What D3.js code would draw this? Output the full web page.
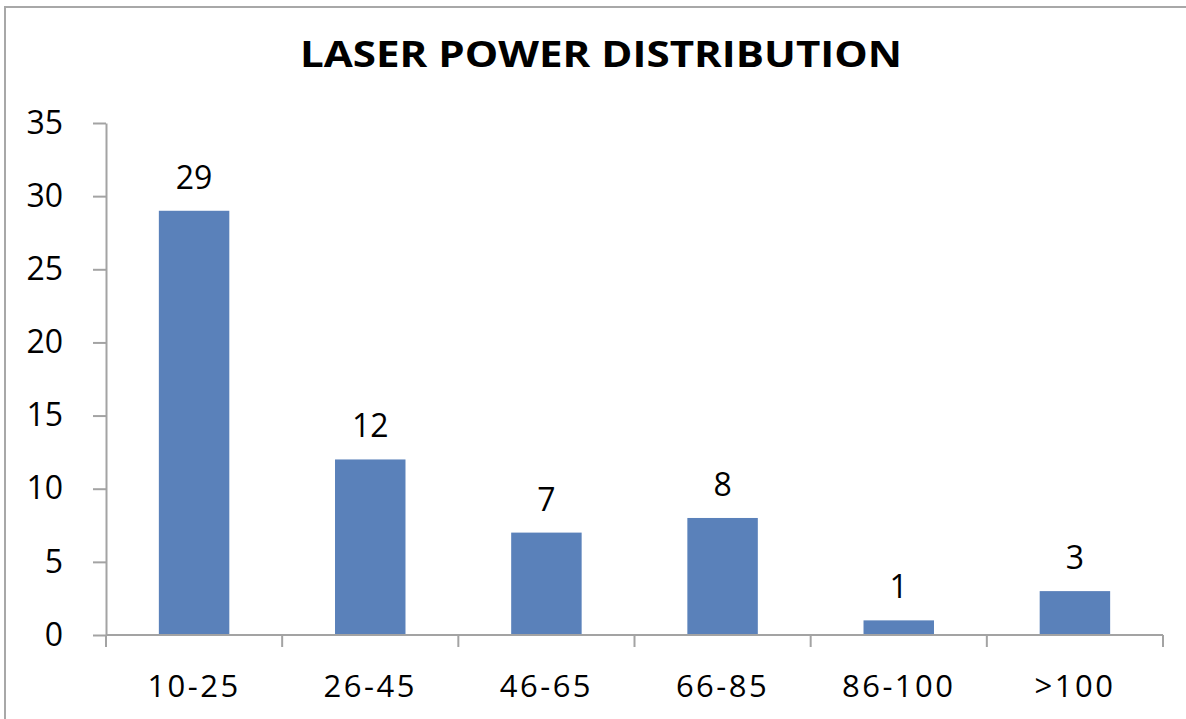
<!DOCTYPE html>
<html>
<head>
<meta charset="utf-8">
<script src="https://cdn.jsdelivr.net/npm/d3@7"></script>
<style>
  html, body { margin: 0; padding: 0; background: #fff; }
  svg { display: block; }
  text { font-family: "Open Sans", "Liberation Sans", sans-serif; fill: #000; }
</style>
</head>
<body>
<svg id="chart" width="1186" height="719"></svg>
<script>
// Laser power ranges and how many units fall in each
const categories = ["10-25", "26-45", "46-65", "66-85", "86-100", ">100"];
const counts = [29, 12, 7, 8, 1, 3];
const yTicks = [0, 5, 10, 15, 20, 25, 30, 35];
const chartTitle = "LASER POWER DISTRIBUTION";

const svg = d3.select("#chart");
const plot = { left: 106, right: 1163, top: 123, bottom: 635 };
const axisColor = "#a3a3a3";
const barColor = "#5a81ba";

// outer frame of the chart area
svg.append("rect")
  .attr("x", 5).attr("y", 7)
  .attr("width", 1300).attr("height", 900)
  .attr("fill", "none")
  .attr("stroke", "#a8a8a8")
  .attr("stroke-width", 2);

// title
svg.append("text")
  .attr("x", 601).attr("y", 67)
  .attr("text-anchor", "middle")
  .attr("font-size", 35)
  .attr("font-weight", 700)
  .attr("textLength", 602)
  .attr("lengthAdjust", "spacingAndGlyphs")
  .text(chartTitle);

const y = d3.scaleLinear().domain([0, 35]).range([plot.bottom, plot.top]);
const x = d3.scaleBand().domain(categories)
  .range([plot.left, plot.right])
  .paddingInner(0.6).paddingOuter(0.3);
const xCells = d3.scaleBand().domain(categories)
  .range([plot.left, plot.right]).padding(0);

// y axis
const yAxis = svg.append("g")
  .attr("transform", `translate(${plot.left},0)`)
  .call(d3.axisLeft(y).tickValues(yTicks).tickSize(13).tickSizeOuter(0).tickPadding(30));
yAxis.select(".domain").attr("stroke", axisColor).attr("stroke-width", 2);
yAxis.selectAll(".tick line").attr("stroke", axisColor).attr("stroke-width", 2);
yAxis.selectAll(".tick text")
  .attr("font-size", 32)
  .attr("font-family", "\"Open Sans\", sans-serif")
  .attr("fill", "#000");

// bars
svg.append("g").selectAll("rect")
  .data(categories)
  .join("rect")
  .attr("x", d => x(d))
  .attr("width", x.bandwidth())
  .attr("y", (d, i) => y(counts[i]))
  .attr("height", (d, i) => y(0) - y(counts[i]))
  .attr("fill", barColor);

// value labels above each bar
svg.append("g").selectAll("text")
  .data(categories)
  .join("text")
  .attr("x", d => x(d) + x.bandwidth() / 2)
  .attr("y", (d, i) => y(counts[i]) - 22)
  .attr("text-anchor", "middle")
  .attr("font-size", 32)
  .text((d, i) => counts[i]);

// x axis: baseline, category boundary ticks, labels
const xAxis = svg.append("g");
xAxis.append("line")
  .attr("x1", plot.left).attr("x2", plot.right)
  .attr("y1", y(0)).attr("y2", y(0))
  .attr("stroke", axisColor).attr("stroke-width", 2);
const bounds = categories.map(d => xCells(d)).concat([plot.right]);
xAxis.selectAll("line.bound")
  .data(bounds)
  .join("line")
  .attr("class", "bound")
  .attr("x1", d => d).attr("x2", d => d)
  .attr("y1", y(0)).attr("y2", y(0) + 12)
  .attr("stroke", axisColor).attr("stroke-width", 2);
xAxis.selectAll("text")
  .data(categories)
  .join("text")
  .attr("x", d => xCells(d) + xCells.bandwidth() / 2)
  .attr("y", 697)
  .attr("text-anchor", "middle")
  .attr("font-size", 31)
  .attr("letter-spacing", "2.5px")
  .text(d => d);
</script>
</body>
</html>
